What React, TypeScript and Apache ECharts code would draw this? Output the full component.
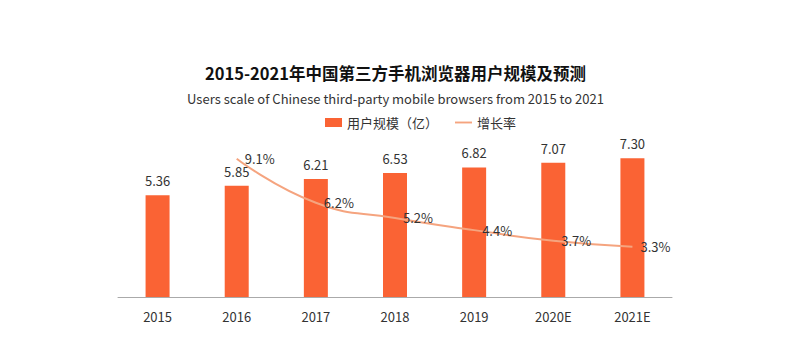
import React, { useEffect, useRef } from "react";
import * as echarts from "echarts";

const years = ["2015", "2016", "2017", "2018", "2019", "2020E", "2021E"];
const users = [5.36, 5.85, 6.21, 6.53, 6.82, 7.07, 7.3];
const growth = [null, 9.1, 6.2, 5.2, 4.4, 3.7, 3.3];

const FONT = "'Noto Sans CJK SC', 'Noto Sans', sans-serif";
const LINE_COLOR = "#F5A47F";

export default function App() {
  const ref = useRef<HTMLDivElement>(null);
  useEffect(() => {
    const chart = echarts.init(ref.current!, undefined, { renderer: "svg" });
    chart.setOption({
      animation: false,
      textStyle: { fontFamily: FONT },
      title: [
        {
          text: "2015-2021年中国第三方手机浏览器用户规模及预测",
          left: "center",
          top: 52,
          textStyle: { fontSize: 16.5, fontWeight: "bold", color: "#111", fontFamily: FONT },
        },
        {
          text: "Users scale of Chinese third-party mobile browsers from 2015 to 2021",
          left: "center",
          top: 79,
          textStyle: { fontSize: 13, fontWeight: "normal", color: "#333", fontFamily: FONT },
        },
      ],
      legend: {
        top: 103,
        left: 312,
        itemWidth: 17,
        itemHeight: 9,
        itemGap: 17,
        textStyle: { fontSize: 13, color: "#333", fontFamily: FONT },
        data: [
          { name: "用户规模（亿）", icon: "rect" },
          { name: "增长率", icon: "path://M0,0H18V2H0Z", itemStyle: { color: LINE_COLOR } },
        ],
      },
      grid: { left: 110, right: 111, top: 137, bottom: 59 },
      xAxis: {
        type: "category",
        data: years,
        axisLine: { lineStyle: { color: "#aaa" } },
        axisTick: { show: false },
        axisLabel: { color: "#333", fontSize: 13, margin: 13, fontFamily: FONT },
      },
      yAxis: [
        { type: "value", min: 0, max: 8, show: false, splitLine: { show: false } },
        { type: "value", min: 0, max: 10, show: false, splitLine: { show: false } },
      ],
      series: [
        {
          name: "用户规模（亿）",
          type: "bar",
          data: users,
          barWidth: 24,
          itemStyle: { color: "#FA6334" },
          label: {
            show: true,
            position: "top",
            distance: 8,
            color: "#333",
            fontSize: 13,
            fontFamily: FONT,
            formatter: (p: any) => p.value.toFixed(2),
          },
        },
        {
          name: "增长率",
          type: "line",
          yAxisIndex: 1,
          data: growth,
          smooth: true,
          showSymbol: true,
          symbol: "circle",
          symbolSize: 2,
          lineStyle: { color: LINE_COLOR, width: 2 },
          itemStyle: { color: "rgba(0,0,0,0)", borderWidth: 0 },
          label: {
            show: true,
            position: "right",
            distance: 7,
            color: "#333",
            fontSize: 13,
            fontFamily: FONT,
            formatter: (p: any) => p.value + "%",
          },
        },
      ],
    });
    return () => chart.dispose();
  }, []);
  return <div ref={ref} style={{ width: 775, height: 348 }} />;
}
